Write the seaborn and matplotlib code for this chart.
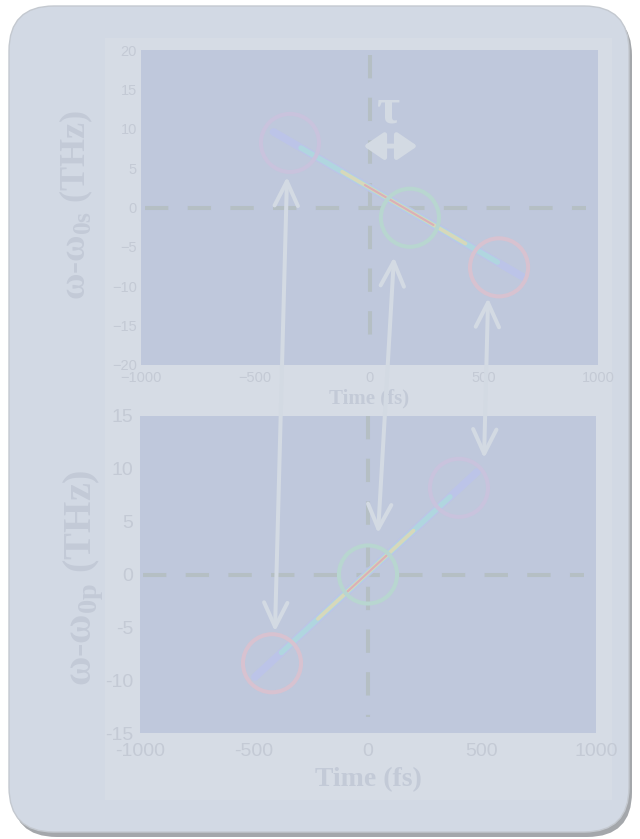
import matplotlib
matplotlib.use("Agg")
import matplotlib.pyplot as plt
import seaborn as sns
import pandas as pd
from matplotlib.patches import FancyBboxPatch, Rectangle, ConnectionPatch, FancyArrowPatch

# ---------------- data ----------------
x_ticks = [-1000, -500, 0, 500, 1000]
top_yticks = [-20, -15, -10, -5, 0, 5, 10, 15, 20]
bot_yticks = [-15, -10, -5, 0, 5, 10, 15]

top_circle_x = [-348, 177, 567]
top_circle_y = [8.2, -1.3, -7.6]
bot_circle_x = [-421, 0, 399]
bot_circle_y = [-8.4, 0.0, 8.2]

# streak layers (outer -> inner), each a start/end pair
top_streak_x = [[-420, 670], [-300, 560], [-120, 420], [-20, 280]]
top_streak_y = [[9.6, -8.8], [7.57, -6.94], [4.54, -4.58], [2.85, -2.22]]
bot_streak_x = [[-496, 478], [-380, 360], [-220, 200], [-100, 90]]
bot_streak_y = [[-9.7, 9.7], [-7.39, 7.35], [-4.2, 4.16], [-1.81, 1.97]]

# dashed zero lines
top_hline_x = [-982, 948]
top_vline_y = [19.4, -18.3]
bot_hline_x = [-987, 947]
bot_vline_y = [15.0, -13.5]

# arrows connecting the panels (tip in top panel, tip in bottom panel)
arrow_top_x = [-361, 107, 519]
arrow_top_y = [3.9, -6.3, -11.5]
arrow_bot_x = [-408, 44, 509]
arrow_bot_y = [-5.4, 3.9, 11.0]

tau_label = "τ"
tau_xy = (77, 12.3)
tau_arrow_x = [-26, 210]
tau_arrow_y = 7.8

xlabel = "Time (fs)"
top_ylabel = r"ω-ω$_{\mathbf{0s}}$ (THz)"
bot_ylabel = r"ω-ω$_{\mathbf{0p}}$ (THz)"

# ---------------- style ----------------
AX_BG = "#bfc8dc"
PANEL = "#d2d9e4"
INNER = "#d6dce5"
TXT = "#c4cad5"
LBL = "#c3cad7"
DASH = "#b5bfc4"
ARW = "#d3dae3"
circle_top_colors = ["#c9c3dd", "#b8d6d0", "#d8c2d0"]
circle_bot_colors = ["#d8c2d0", "#b8d6d0", "#c9c3dd"]
streak_colors = ["#bcc4ea", "#afd9df", "#dcd9b6", "#dcabb6"]
streak_lw = [5.5, 3.8, 2.6, 1.5]

sns.set_style("white")
plt.rcParams["mathtext.fontset"] = "custom"
plt.rcParams["mathtext.bf"] = "Liberation Serif:bold"
plt.rcParams["mathtext.rm"] = "Liberation Serif"
plt.rcParams["font.family"] = ["Liberation Sans", "DejaVu Sans"]

W, H = 640, 839
fig = plt.figure(figsize=(W / 100, H / 100), dpi=100)
fig.patch.set_facecolor("white")

# background rounded panel with shadow
shadow = FancyBboxPatch((12 / W, 2 / H), 620 / W, 826 / H,
                        boxstyle="round,pad=0,rounding_size=0.07",
                        transform=fig.transFigure, fc="#8e9196", ec="none",
                        alpha=0.8, zorder=-12, mutation_aspect=W / H)
fig.add_artist(shadow)
panel = FancyBboxPatch((9 / W, 7 / H), 620 / W, 826 / H,
                       boxstyle="round,pad=0,rounding_size=0.07",
                       transform=fig.transFigure, fc=PANEL, ec="#c4c9d0",
                       lw=1, zorder=-11, mutation_aspect=W / H)
fig.add_artist(panel)
inner = Rectangle((105 / W, 1 - 800 / H), 507 / W, 762 / H,
                  transform=fig.transFigure, fc=INNER, ec="none", zorder=-10)
fig.add_artist(inner)

ax_top = fig.add_axes([141 / W, 1 - 365 / H, 457 / W, 315 / H])
ax_bot = fig.add_axes([140 / W, 1 - 733 / H, 456 / W, 317 / H])


def style_axes(ax, yticks, ylim, fs, xpad, ypad):
    ax.set_facecolor(AX_BG)
    for s in ax.spines.values():
        s.set_visible(False)
    ax.set_xlim(-1000, 1000)
    ax.set_ylim(*ylim)
    ax.set_xticks(x_ticks)
    ax.set_yticks(yticks)
    ax.tick_params(axis="both", length=0, labelsize=fs, labelcolor=TXT)
    ax.tick_params(axis="x", pad=xpad)
    ax.tick_params(axis="y", pad=ypad)
    ax.grid(False)


style_axes(ax_top, top_yticks, (-20, 20), 10.5, 4, 3)
style_axes(ax_bot, bot_yticks, (-15, 15), 14, 7, 5)
ax_bot.set_xticklabels([str(v) for v in x_ticks])
ax_bot.set_yticklabels([str(v) for v in bot_yticks])

# dashed zero lines
for ax, hx, vy in [(ax_top, top_hline_x, top_vline_y), (ax_bot, bot_hline_x, bot_vline_y)]:
    ax.plot(hx, [0, 0], color=DASH, lw=2.9, dashes=(5.8, 4.8), zorder=2)
    ax.plot([0, 0], vy, color=DASH, lw=2.9, dashes=(5.8, 4.8), zorder=2)

# spectral streaks
for ax, sx, sy in [(ax_top, top_streak_x, top_streak_y), (ax_bot, bot_streak_x, bot_streak_y)]:
    for xs, ys, c, lw in zip(sx, sy, streak_colors, streak_lw):
        sns.lineplot(x=xs, y=ys, ax=ax, color=c, lw=lw, sort=False, alpha=0.9,
                     solid_capstyle="round", zorder=3)

# circles
for ax, cx, cy, cols in [(ax_top, top_circle_x, top_circle_y, circle_top_colors),
                         (ax_bot, bot_circle_x, bot_circle_y, circle_bot_colors)]:
    df = pd.DataFrame({"x": cx, "y": cy})
    sns.scatterplot(data=df, x="x", y="y", ax=ax, s=1750, marker="o",
                    color="none", linewidth=2.9, zorder=4)
    coll = ax.collections[-1]
    coll.set_facecolor("none")
    coll.set_edgecolor(cols)
    coll.set_linewidth(2.9)

# tau annotation
ax_top.text(tau_xy[0], tau_xy[1], tau_label, ha="center", va="center",
            fontsize=36, fontweight="bold", family=["Liberation Serif", "DejaVu Serif"],
            color=ARW, zorder=6)
tau_arrow = FancyArrowPatch((tau_arrow_x[0], tau_arrow_y), (tau_arrow_x[1], tau_arrow_y),
                            arrowstyle="<|-|>,head_length=1.1,head_width=0.75",
                            mutation_scale=11, lw=3.5, color=ARW, zorder=6,
                            shrinkA=0, shrinkB=0)
ax_top.add_patch(tau_arrow)

# labels
lbl_font = dict(family=["Liberation Serif", "DejaVu Serif"], fontweight="bold", color=LBL)
ax_top.set_xlabel(xlabel, fontsize=15, labelpad=3, **lbl_font)
ax_bot.set_xlabel(xlabel, fontsize=20, labelpad=5, **lbl_font)
ax_top.set_ylabel(top_ylabel, fontsize=26, va="center", **lbl_font)
ax_bot.set_ylabel(bot_ylabel, fontsize=29, va="center", **lbl_font)
ax_top.yaxis.set_label_coords((76 - 141) / 457, (365 - 205) / 315)
ax_bot.yaxis.set_label_coords((84 - 140) / 456, (733 - 578) / 317)

# connecting arrows between the two panels
for xt, yt, xb, yb in zip(arrow_top_x, arrow_top_y, arrow_bot_x, arrow_bot_y):
    con = ConnectionPatch(xyA=(xt, yt), coordsA=ax_top.transData,
                          xyB=(xb, yb), coordsB=ax_bot.transData,
                          arrowstyle="<->,head_length=1.25,head_width=0.6",
                          mutation_scale=14, lw=2.9, color=ARW,
                          shrinkA=0, shrinkB=0, zorder=8)
    fig.add_artist(con)

fig.savefig("out.png", dpi=100)
